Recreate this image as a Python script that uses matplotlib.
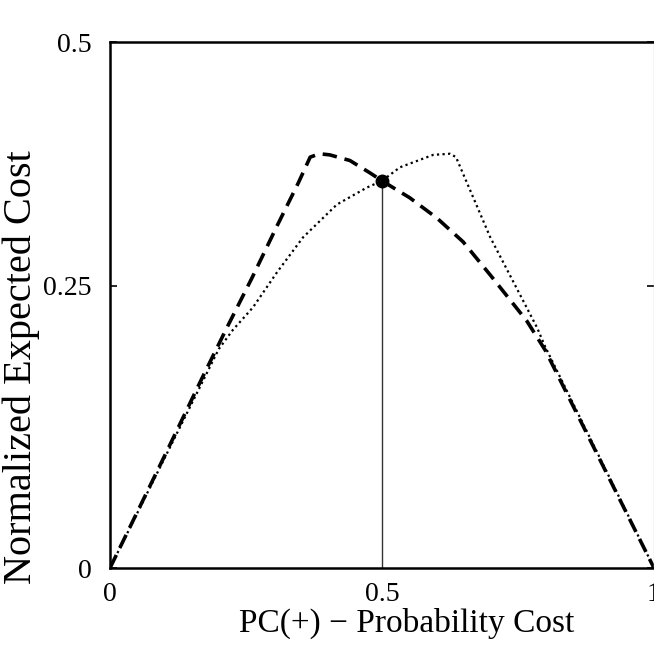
import matplotlib
matplotlib.use("Agg")
import matplotlib.pyplot as plt

plt.rcParams['font.family'] = ['Liberation Serif', 'DejaVu Serif']

# Data
dashed_x = [0.0, 0.10, 0.169, 0.215, 0.261, 0.307, 0.346, 0.368, 0.385, 0.404, 0.441, 0.478, 0.5,
            0.551, 0.601, 0.649, 0.70, 0.766, 0.80, 1.0]
dashed_y = [0.0, 0.099, 0.168, 0.213, 0.257, 0.303, 0.341, 0.364, 0.367, 0.366, 0.361, 0.350, 0.343,
            0.328, 0.310, 0.289, 0.259, 0.219, 0.193, 0.0]
dotted_x = [0.0, 0.10, 0.20, 0.226, 0.263, 0.307, 0.355, 0.417, 0.472, 0.5, 0.533, 0.594, 0.625,
            0.636, 0.699, 0.785, 0.80, 1.0]
dotted_y = [0.0, 0.097, 0.194, 0.211, 0.231, 0.262, 0.293, 0.322, 0.337, 0.343, 0.355, 0.366, 0.367,
            0.364, 0.293, 0.213, 0.196, 0.0]
point_x = 0.5
point_y = 0.343

y_top = 0.466
yticks = [0.0, 0.25, y_top]
ytick_labels = ['0', '0.25', '0.5']
xticks = [0.0, 0.5, 1.0]
xtick_labels = ['0', '0.5', '1']

fig = plt.figure(figsize=(6.54, 6.50), dpi=100)
ax = fig.add_axes([110/654, 1 - 568/650, 544/654, (568 - 42)/650])

ax.plot(dashed_x, dashed_y, color='black', lw=2.6, linestyle=(0, (4.0, 2.2)),
        solid_capstyle='butt', dash_capstyle='butt')
ax.plot(dotted_x, dotted_y, color='black', lw=1.6, linestyle=(0, (1.0, 1.5)),
        dash_capstyle='butt')
ax.plot([point_x, point_x], [0, point_y], color='#333333', lw=1.0)
ax.plot([point_x], [point_y], 'o', color='black', markersize=9)

ax.set_xlim(0, 1)
ax.set_ylim(0, y_top)
ax.set_xticks(xticks)
ax.set_xticklabels(xtick_labels)
ax.set_yticks(yticks)
ax.set_yticklabels(ytick_labels)

ax.tick_params(axis='y', direction='in', length=5, width=1.2, left=True, right=True,
               labelsize=20, pad=13)
ax.tick_params(axis='x', direction='in', length=0, labelsize=20, pad=10)

for s in ['left', 'bottom', 'top']:
    ax.spines[s].set_linewidth(1.8)
    ax.spines[s].set_color('black')
ax.spines['right'].set_color('#cccccc')
ax.spines['right'].set_linewidth(1.0)

ax.set_xlabel('PC(+) \u2212 Probability Cost', fontsize=24)
ax.xaxis.set_label_coords(0.546, -0.106, transform=ax.transAxes)
ax.xaxis.label.set_va('center')
ax.set_ylabel('Normalized Expected Cost', fontsize=29)
ax.yaxis.set_label_coords(-0.163, 0.382, transform=ax.transAxes)
ax.yaxis.label.set_va('center')

fig.savefig('out.png', dpi=100)
